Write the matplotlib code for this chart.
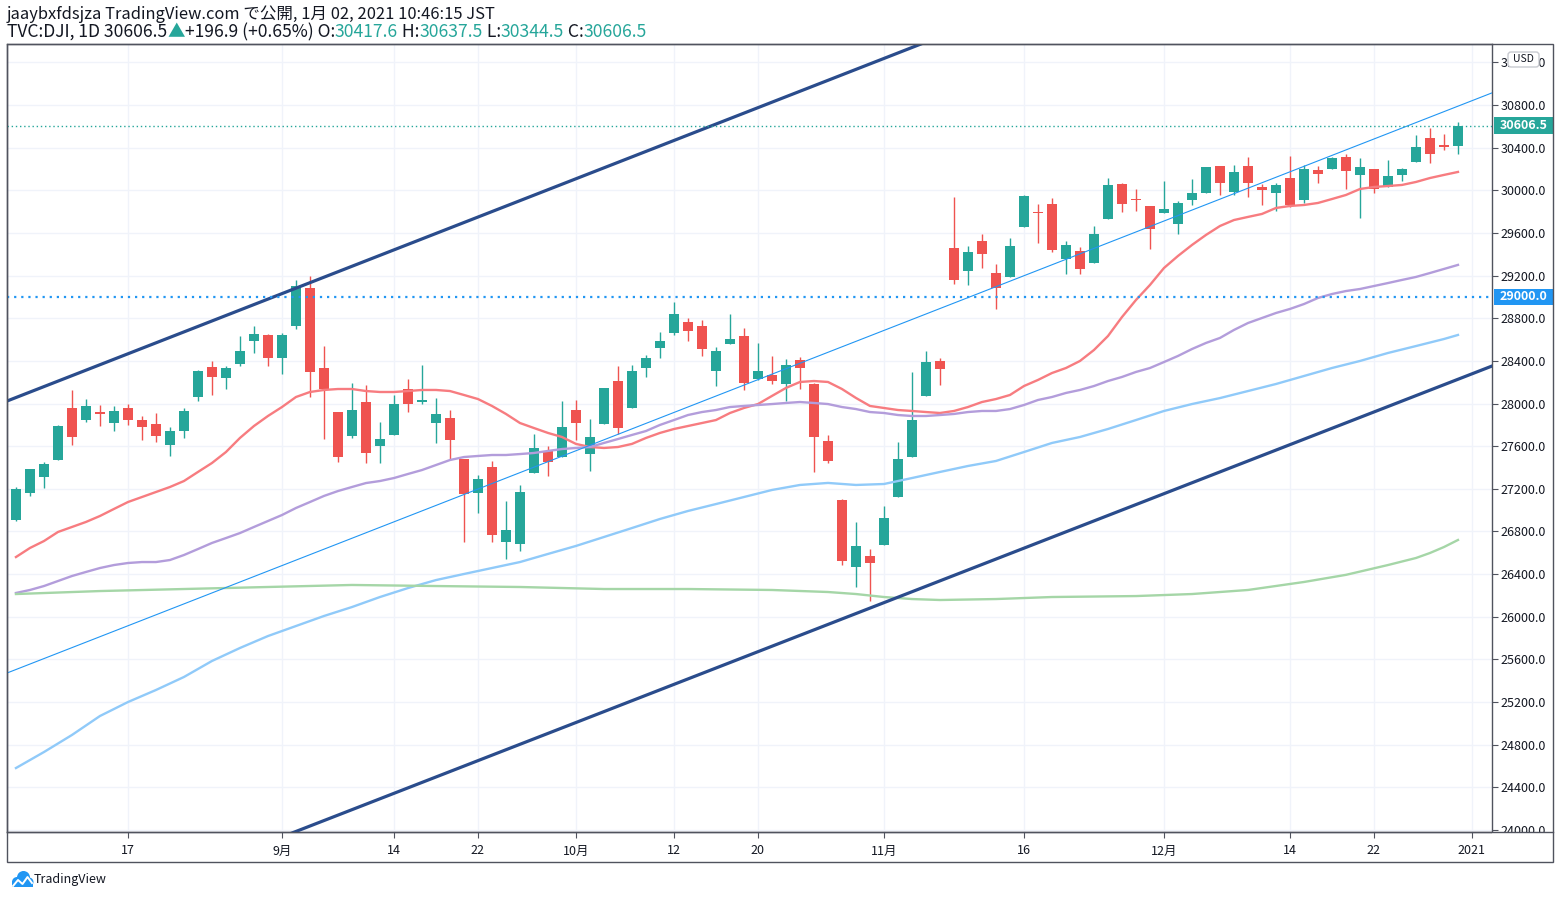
import matplotlib.pyplot as plt
import matplotlib.patches as mpatches
from matplotlib.transforms import IdentityTransform
import numpy as np
import pandas as pd

plt.rcParams['font.family'] = ['Noto Sans CJK JP', 'DejaVu Sans']

# trading days shown (Aug 5 - Dec 31 2020, US holidays removed)
dates = pd.bdate_range('2020-08-05', '2020-12-31')
dates = dates[~dates.isin(pd.to_datetime(['2020-09-07', '2020-11-26', '2020-12-25']))]

opens = [26910, 27163, 27313, 27473, 27955, 27848, 27920, 27820, 27960, 27845,
         27807, 27613, 27745, 28064, 28340, 28242, 28370, 28589, 28643, 28430,
         28730, 29084, 28333, 27920, 27698, 28014, 27604, 27707, 28136, 28010,
         27817, 27864, 27476, 27163, 27404, 26703, 26685, 27351, 27554, 27501,
         27939, 27529, 27810, 28211, 27960, 28333, 28520, 28661, 28764, 28727,
         28305, 28558, 28633, 28230, 28267, 28183, 28408, 28183, 27648, 27095,
         26466, 26569, 26672, 27126, 27501, 28073, 28398, 29458, 29245, 29524,
         29224, 29190, 29658, 29796, 29871, 29358, 29430, 29321, 29734, 30059,
         29915, 29853, 29790, 29687, 29912, 29977, 30228, 29987, 30228, 30031,
         29977, 30115, 29912, 30190, 30203, 30312, 30146, 30200, 30031, 30146,
         30268, 30490, 30415, 30417.6]
highs = [27217, 27387, 27451, 27798, 28130, 28040, 27985, 27975, 27995, 27885,
         27910, 27780, 27958, 28315, 28398, 28352, 28635, 28727, 28650, 28659,
         29160, 29199, 28540, 27925, 28195, 28175, 27826, 28080, 28230, 28360,
         28050, 27940, 27480, 27330, 27460, 27090, 27232, 27715, 27600, 28023,
         28033, 27855, 28150, 28355, 28365, 28455, 28670, 28955, 28800, 28785,
         28530, 28840, 28710, 28567, 28445, 28417, 28436, 28190, 27705, 27100,
         26888, 26635, 27040, 27640, 28295, 28492, 28430, 29933, 29480, 29590,
         29310, 29552, 29960, 29871, 29930, 29524, 29468, 29665, 30116, 30070,
         30012, 29855, 30083, 29900, 30106, 30220, 30230, 30237, 30312, 30060,
         30068, 30321, 30237, 30228, 30315, 30340, 30303, 30200, 30284, 30206,
         30519, 30584, 30525, 30637.5]
lows = [26900, 27135, 27210, 27470, 27610, 27830, 27785, 27745, 27800, 27660,
        27640, 27510, 27680, 28026, 28083, 28140, 28350, 28477, 28350, 28280,
        28700, 28064, 27664, 27454, 27680, 27440, 27440, 27700, 27924, 28000,
        27632, 27476, 26703, 26976, 26703, 26537, 26616, 27350, 27323, 27500,
        27661, 27370, 27805, 27717, 27955, 28248, 28427, 28645, 28586, 28445,
        28164, 28555, 28127, 28225, 28183, 28023, 28136, 27357, 27442, 26485,
        26278, 26144, 26670, 27120, 27500, 28070, 28176, 29124, 29114, 29274,
        28890, 29185, 29655, 29508, 29424, 29218, 29218, 29320, 29730, 29799,
        29810, 29452, 29785, 29593, 29865, 29975, 29960, 29959, 29940, 29865,
        29809, 29840, 29884, 30071, 30200, 30015, 29743, 29977, 30028, 30090,
        30265, 30259, 30381, 30344.5]
closes = [27202, 27387, 27433, 27791, 27687, 27977, 27897, 27931, 27845, 27778,
          27693, 27740, 27930, 28308, 28248, 28332, 28492, 28654, 28430, 28646,
          29100, 28293, 28133, 27501, 27940, 27535, 27666, 27993, 27996, 28032,
          27902, 27657, 27148, 27288, 26763, 26815, 27174, 27584, 27453, 27782,
          27817, 27683, 28149, 27773, 28303, 28425, 28587, 28838, 28680, 28514,
          28494, 28606, 28195, 28309, 28211, 28364, 28336, 27685, 27463, 26520,
          26659, 26502, 26925, 27480, 27848, 28390, 28323, 29158, 29421, 29398,
          29080, 29480, 29950, 29783, 29438, 29483, 29263, 29591, 30046, 29872,
          29910, 29639, 29824, 29884, 29970, 30218, 30070, 30174, 30069, 29999,
          30046, 29862, 30200, 30155, 30303, 30179, 30216, 30016, 30130, 30200,
          30404, 30336, 30410, 30606.5]

# moving averages
ma20 = [26560, 26645, 26710, 26795, 26842, 26889, 26945, 27011, 27076, 27123,
        27170, 27217, 27273, 27358, 27442, 27545, 27677, 27789, 27883, 27967,
        28061, 28108, 28127, 28136, 28136, 28117, 28108, 28108, 28117, 28127,
        28127, 28117, 28080, 28042, 27977, 27902, 27817, 27770, 27724, 27686,
        27621, 27592, 27583, 27592, 27621, 27677, 27724, 27761, 27789, 27817,
        27845, 27911, 27958, 27995, 28071, 28146, 28202, 28211, 28202, 28136,
        28052, 27977, 27958, 27939, 27930, 27920, 27911, 27930, 27967, 28014,
        28042, 28080, 28164, 28221, 28286, 28333, 28399, 28502, 28633, 28811,
        28971, 29112, 29271, 29384, 29487, 29581, 29665, 29721, 29750, 29778,
        29834, 29853, 29862, 29881, 29918, 29956, 30012, 30031, 30040, 30050,
        30078, 30115, 30144, 30172]
ma50 = [26223, 26251, 26288, 26335, 26382, 26420, 26457, 26485, 26504, 26513,
        26513, 26532, 26579, 26635, 26692, 26738, 26785, 26842, 26898, 26954,
        27020, 27076, 27133, 27179, 27217, 27254, 27273, 27301, 27339, 27376,
        27423, 27470, 27498, 27508, 27517, 27517, 27526, 27536, 27555, 27573,
        27583, 27592, 27630, 27667, 27705, 27742, 27799, 27845, 27892, 27920,
        27939, 27967, 27977, 27986, 27995, 28005, 28014, 28005, 27995, 27967,
        27948, 27920, 27911, 27892, 27883, 27883, 27892, 27902, 27920, 27930,
        27930, 27948, 27986, 28033, 28061, 28099, 28127, 28164, 28211, 28249,
        28296, 28333, 28389, 28446, 28511, 28568, 28615, 28690, 28755, 28802,
        28849, 28887, 28933, 28990, 29027, 29055, 29074, 29102, 29130, 29159,
        29187, 29224, 29262, 29300]
ma100_pos = [0, 2, 4, 6, 8, 10, 12, 14, 16, 18, 20, 22, 24, 26, 28, 30, 32, 34,
             36, 38, 40, 42, 44, 46, 48, 50, 52, 54, 56, 58, 60, 62, 64, 66, 68,
             70, 72, 74, 76, 78, 80, 82, 84, 86, 88, 90, 92, 94, 96, 98, 100, 102, 103]
ma100 = [24581, 24731, 24891, 25069, 25200, 25313, 25435, 25585, 25707, 25819,
         25913, 26007, 26091, 26185, 26269, 26344, 26401, 26457, 26513, 26589,
         26664, 26748, 26832, 26917, 26992, 27057, 27123, 27189, 27236, 27255,
         27236, 27245, 27301, 27358, 27414, 27461, 27545, 27630, 27686, 27761,
         27845, 27930, 27995, 28051, 28117, 28183, 28258, 28333, 28399, 28474,
         28539, 28605, 28643]
ma200_pos = [0, 6, 12, 18, 24, 30, 36, 42, 48, 54, 58, 60, 62, 64, 66, 70, 74,
             80, 84, 88, 92, 95, 98, 100, 101, 102, 103]
ma200 = [26213, 26241, 26260, 26279, 26298, 26288, 26279, 26260, 26260, 26251,
         26232, 26213, 26185, 26166, 26157, 26166, 26185, 26194, 26213, 26251,
         26326, 26393, 26485, 26551, 26598, 26654, 26720]

# drawn trend lines: (bar position, price) anchors
upper_line = [(0, 28056), (100, 33186)]
lower_line = [(0, 22964), (100, 28074)]
mid_line = [(0, 25505), (100, 30635)]
hline_price = 29000.0
last_price = 30606.5

tick_dates = ['2020-08-17', '2020-09-01', '2020-09-14', '2020-09-22', '2020-10-01',
              '2020-10-12', '2020-10-20', '2020-11-02', '2020-11-16', '2020-12-01',
              '2020-12-14', '2020-12-22']
tick_labels = ['17', '9月', '14', '22', '10月', '12', '20', '11月', '16', '12月',
               '14', '22', '2021']

UP = '#26a69a'
DOWN = '#ef5350'
TXT = '#131722'
FRAME = '#50535e'
GRID = '#f0f3fa'
HEAD_FONT = ['Noto Sans CJK JP', 'DejaVu Sans']

W, H = 1560, 898
fig = plt.figure(figsize=(W / 100, H / 100), dpi=100)
fig.patch.set_facecolor('white')
ax = fig.add_axes([7 / W, 1 - 832 / H, (1492 - 7) / W, (832 - 44) / H])

x = np.arange(len(dates))
for i in x:
    o, h, l, c = opens[i], highs[i], lows[i], closes[i]
    col = UP if c >= o else DOWN
    ax.vlines(i, l, h, color=col, lw=1, zorder=3)
    ax.bar(i, max(abs(c - o), 12), bottom=min(o, c), width=0.72, color=col,
           zorder=3, linewidth=0)

ax.plot(x, ma20, color='#f77c80', lw=1.7, zorder=4)
ax.plot(x, ma50, color='#b39ddb', lw=1.7, zorder=4)
ax.plot(ma100_pos, ma100, color='#90caf9', lw=1.7, zorder=4)
ax.plot(ma200_pos, ma200, color='#a5d6a7', lw=1.7, zorder=4)

for line, col, lw in [(upper_line, '#2a4c8c', 2.3), (lower_line, '#2a4c8c', 2.3),
                      (mid_line, '#2196f3', 0.8)]:
    (x0, y0), (x1, y1) = line
    xs = np.array([-5, 110])
    ys = y0 + (y1 - y0) / (x1 - x0) * (xs - x0)
    ax.plot(xs, ys, color=col, lw=lw, zorder=5, solid_capstyle='butt')

ax.axhline(hline_price, color='#2196f3', lw=1.6, ls=(0, (1, 2.2)), zorder=5)
ax.axhline(last_price, color=UP, lw=1.0, ls=(0, (1, 2)), zorder=5)

ax.set_xlim(-0.64, 105.43)
ax.set_ylim(23981, 31372)

pos = [int(np.where(dates == pd.Timestamp(d))[0][0]) for d in tick_dates] + [len(dates)]
ax.set_xticks(pos)
ax.set_xticklabels(tick_labels)
yt = np.arange(24000, 31201, 400)
ax.set_yticks(yt)
ax.set_yticklabels([f'{v:.1f}' for v in yt])
ax.yaxis.tick_right()
ax.tick_params(axis='y', length=4, color=FRAME, labelsize=9, labelcolor=TXT, pad=2)
ax.tick_params(axis='x', length=4, color=FRAME, labelsize=9, labelcolor=TXT, pad=5)
ax.grid(True, color=GRID, lw=1, zorder=0)
ax.set_axisbelow(True)
for s in ax.spines.values():
    s.set_color(FRAME)
    s.set_linewidth(1)

# label boxes on the price scale
ytr = ax.get_yaxis_transform()
for price, col in [(last_price, UP), (hline_price, '#2196f3')]:
    ax.add_patch(mpatches.Rectangle((1.0013, price - 78), 0.0404, 156, transform=ytr,
                                    facecolor=col, edgecolor='none', clip_on=False, zorder=6))
    ax.text(1.0215, price, f'{price:.1f}', transform=ytr, color='white', fontsize=9,
            fontweight='bold', ha='center', va='center', zorder=7, clip_on=False)

# frame around chart + price scale, and cover for the cut-off bottom label
fig.add_artist(mpatches.Rectangle((1492, 898 - 862), 61, 29, transform=IdentityTransform(),
                                  facecolor='white', edgecolor='none', zorder=2))
fig.add_artist(mpatches.Rectangle((7, 898 - 862), 1546, 818, transform=IdentityTransform(),
                                  facecolor='none', edgecolor=FRAME, lw=1, zorder=3))
fig.add_artist(plt.Line2D([7, 1553], [898 - 832, 898 - 832], transform=IdentityTransform(),
                          color=FRAME, lw=1, zorder=3))
fig.add_artist(mpatches.FancyBboxPatch((1508, 898 - 67), 31, 15, transform=IdentityTransform(),
                                       boxstyle='round,pad=0,rounding_size=3',
                                       facecolor='white', edgecolor='#c8cad0', lw=1, zorder=4))
fig.text(1523.5 / W, 1 - 59.5 / H, 'USD', fontsize=7.5, color=TXT, ha='center', va='center', zorder=5)

# header lines with mixed colours
renderer = fig.canvas.get_renderer()


def segments(x0, yc, parts, size):
    xp = x0
    for s, c in parts:
        t = fig.text(xp / W, 1 - yc / H, s, color=c, fontsize=size, ha='left',
                     va='center', family=HEAD_FONT)
        xp = t.get_window_extent(renderer).x1


segments(7, 14, [('jaaybxfdsjza TradingView.com で公開, 1月 02, 2021 10:46:15 JST', TXT)], 11.9)
segments(7, 32, [('TVC:DJI, 1D 30606.5', TXT), ('▲', UP), ('+196.9 (+0.65%) O:', TXT),
                 ('30417.6', UP), (' H:', TXT), ('30637.5', UP), (' L:', TXT),
                 ('30344.5', UP), (' C:', TXT), ('30606.5', UP)], 12.6)

# footer logo
logo = '#2196f3'
for cx, cy, r in [(17, 882, 5), (23.5, 877.5, 6.5), (29, 882, 4.5)]:
    fig.add_artist(mpatches.Circle((cx, H - cy), r, transform=IdentityTransform(),
                                   facecolor=logo, edgecolor='none'))
fig.add_artist(mpatches.Rectangle((12, H - 887), 21, 6, transform=IdentityTransform(),
                                  facecolor=logo, edgecolor='none'))
fig.add_artist(plt.Line2D([13, 18, 22.5, 27.5, 32], [H - 886, H - 880, H - 884, H - 877, H - 883],
                          transform=IdentityTransform(), color='white', lw=1.4))
fig.text(34 / W, 1 - 880 / H, 'TradingView', fontsize=9, color=TXT, ha='left', va='center')

fig.savefig('out.png', dpi=100)
